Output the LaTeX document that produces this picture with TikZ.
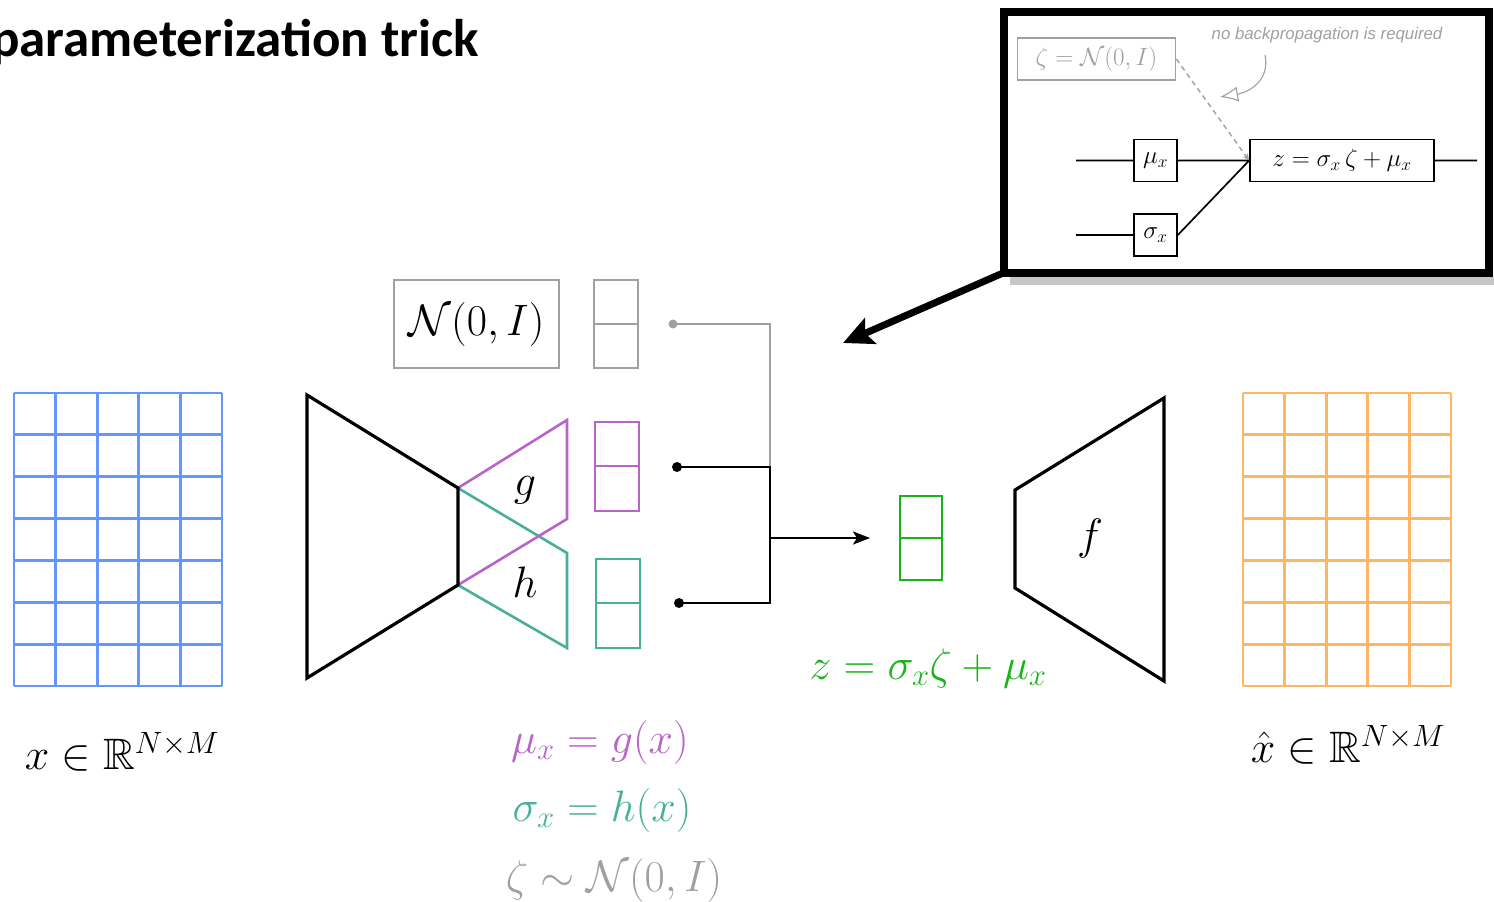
\RequirePackage{fix-cm}
\documentclass[tikz,border=0pt]{standalone}
\usepackage{amssymb}
\usepackage[no-math]{fontspec}
\newfontfamily\titlefont{Carlito}
\newfontfamily\notefont{Liberation Sans}
\usetikzlibrary{arrows.meta}

\definecolor{gridblue}{RGB}{100,150,255}
\definecolor{gridorange}{RGB}{255,182,100}
\definecolor{gmagenta}{RGB}{185,100,200}
\definecolor{hteal}{RGB}{72,176,152}
\definecolor{zgreen}{RGB}{25,180,25}
\definecolor{noisegray}{RGB}{160,160,160}

\begin{document}
\begin{tikzpicture}[x=1pt,y=-1pt,
    net/.style={line width=3.2pt, line join=miter},
    cell/.style={line width=2.8pt},
    wire/.style={line width=2.6pt},
    lab/.style={inner sep=0pt, font=\fontsize{44}{50}\selectfont},
    mini/.style={draw, line width=1.7pt, minimum width=43pt, minimum height=42pt, inner sep=0pt, font=\fontsize{25}{30}\selectfont}]
    \useasboundingbox (0,0) rectangle (1494,902);

    % Titel
    \node[anchor=base west, inner sep=0pt, font=\titlefont\bfseries\fontsize{53}{60}\selectfont] (title) at (-9,56) {parameterization trick};

    % Invoer- en uitvoerraster
    \foreach \i in {0,...,5} {
        \draw[cell, gridblue] ({14+\i*41.6},393) -- ({14+\i*41.6},686);
        \draw[cell, gridorange] ({1243+\i*41.6},393) -- ({1243+\i*41.6},686);
    }
    \foreach \j in {0,...,7} {
        \draw[cell, gridblue] (14,{393+\j*41.86}) -- (222,{393+\j*41.86});
        \draw[cell, gridorange] (1243,{393+\j*41.86}) -- (1451,{393+\j*41.86});
    }

    % Encoder met koppen g en h
    \coordinate (E1) at (307,395);
    \coordinate (E2) at (458,488);
    \coordinate (E3) at (458,585);
    \coordinate (E4) at (307,678);
    \draw[wire, hteal] (E2) -- (567,553) -- (567,648) -- (E3);
    \draw[wire, gmagenta] (E2) -- (567,420) -- (567,519) -- (E3);
    \draw[net] (E1) -- (E2) -- (E3) -- (E4) -- cycle;
    \node[lab] (glab) at (525,490) {$g$};
    \node[lab] (hlab) at (525,582) {$h$};

    % Ruis
    \node[draw=noisegray, line width=2.8pt, minimum width=165pt, minimum height=88pt, lab] (noise) at (476.5,324) {$\mathcal{N}(0,I)$};

    % Vectoren
    \draw[cell, noisegray] (594,280) rectangle (638,368) (594,324) -- (638,324);
    \draw[cell, gmagenta] (595,422) rectangle (639,511) (595,466) -- (639,466);
    \draw[cell, hteal] (596,559) rectangle (640,648) (596,603) -- (640,603);
    \draw[cell, zgreen] (900,496) rectangle (942,580) (900,538) -- (942,538);

    % Verbindingen
    \coordinate (nz) at (673,324);
    \coordinate (mu) at (677,467);
    \coordinate (sg) at (679,603);
    \coordinate (jn) at (770,467);
    \coordinate (js) at (770,603);
    \coordinate (jm) at (770,538);
    \coordinate (zv) at (870,538);
    \draw[wire, noisegray] (nz) -| (jn);
    \fill[noisegray] (nz) circle (4.5);
    \draw[wire] (mu) -- (jn) -- (js) -- (sg);
    \fill (mu) circle (5);
    \fill (sg) circle (5);
    \draw[wire, -{Stealth[length=17pt, width=13pt, inset=4pt]}] (jm) -- (zv);

    % Decoder
    \draw[net] (1015,490) -- (1164,398) -- (1164,681) -- (1015,588) -- cycle;
    \node[lab] (flab) at (1090,538) {$f$};

    % Formules
    \node[lab, zgreen] (zlab) at (928,668) {$z=\sigma_x\zeta+\mu_x$};
    \node[lab] (xlab) at (122,752) {$x\in\mathbb{R}^{N\times M}$};
    \node[lab] (xhlab) at (1348,745) {$\hat{x}\in\mathbb{R}^{N\times M}$};
    \node[lab, gmagenta] (mulab) at (600,742) {$\mu_x = g(x)$};
    \node[lab, hteal] (sglab) at (602,810) {$\sigma_x = h(x)$};
    \node[lab, noisegray] (zetalab) at (614,880) {$\zeta\sim\mathcal{N}(0,I)$};

    % Inzet
    \fill[black!22] (1010,277) rectangle (1494,285);
    \draw[line width=8pt, fill=white] (1004,12) rectangle (1489,273);
    \node[mini, draw=noisegray, text=noisegray, minimum width=158pt] (zeta) at (1096.5,59) {$\zeta=\mathcal{N}(0,I)$};
    \node[mini] (muin) at (1155.5,160.5) {$\mu_x$};
    \node[mini] (sgin) at (1155.5,235) {$\sigma_x$};
    \node[mini, minimum width=184pt] (zbox) at (1342,160.5) {$z=\sigma_x\,\zeta+\mu_x$};
    \coordinate (muin0) at (1076,160.5);
    \coordinate (sgin0) at (1076,235);
    \coordinate (zout) at (1477,160.5);
    \draw[line width=1.7pt] (muin0) -- (muin.west) (muin.east) -- (zbox.west)
        (sgin0) -- (sgin.west) (sgin.east) -- (zbox.west) (zbox.east) -- (zout);
    \draw[noisegray, line width=1.4pt, dash pattern=on 5pt off 4pt, -{Stealth[length=7pt, width=6pt]}] (zeta.east) -- (zbox.west);
    \node[font=\notefont\itshape\fontsize{16.8}{19}\selectfont, text=noisegray, inner sep=0pt] (note) at (1327,35) {no backpropagation is required};
    \coordinate (bp0) at (1265,55);
    \coordinate (bp1) at (1220,97);
    \draw[noisegray, line width=1.1pt, -{Latex[open, length=18pt, width=15pt]}] (bp0) .. controls (1270,80) and (1250,92) .. (bp1);

    % Verwijzing naar de inzet
    \coordinate (zoomsrc) at (1003,273);
    \coordinate (zoomtip) at (843,343);
    \draw[line width=7pt, -{Stealth[length=30pt, width=28pt, inset=6pt]}] (zoomsrc) -- (zoomtip);
\end{tikzpicture}
\end{document}
